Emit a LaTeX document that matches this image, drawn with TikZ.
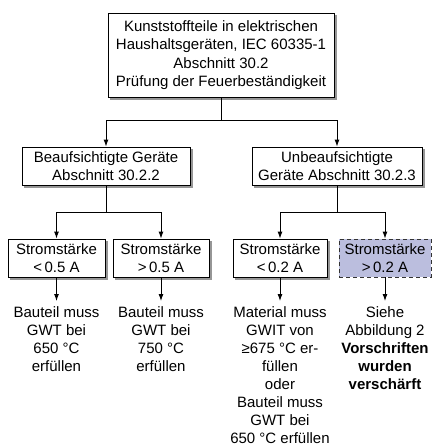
\documentclass[tikz,border=0pt]{standalone}
\usepackage{fontspec}
\setmainfont{Liberation Sans}
\usepackage{tikz}
\usetikzlibrary{shapes,arrows.meta,positioning,backgrounds}
\usepackage{xcolor}
\definecolor{lavendel}{RGB}{187,190,222}
\definecolor{schattengrau}{RGB}{150,150,150}

\begin{document}
\begin{tikzpicture}[x=1pt,y=1pt,>={Latex[length=7pt,width=5pt]},line width=0.9pt]
      \tikzstyle{haupt} = [rectangle, draw, fill=white, align=center, inner sep=0pt, font=\fontsize{15}{18.5}\selectfont]
      \tikzstyle{strom} = [haupt, minimum height=38pt, font=\fontsize{15}{18}\selectfont]
      \tikzstyle{strommark} = [rectangle, draw=black!80, dash pattern=on 4pt off 3pt, fill=lavendel, align=center, inner sep=0pt, minimum height=38pt, font=\fontsize{15}{18}\selectfont]
      \tikzstyle{ergebnis} = [anchor=north, align=center, inner sep=5pt, font=\fontsize{15}{18}\selectfont]
      \tikzstyle{schatten} = [fill=schattengrau, draw=none]
      
      \useasboundingbox (0,0) rectangle (431,-447);
      
      \node[haupt, minimum width=226pt, minimum height=84pt] (norm) at (221,-55) {Kunststoffteile in elektrischen\\Haushaltsgeräten, IEC 60335-1\\Abschnitt 30.2\\Prüfung der Feuerbeständigkeit};
      
      \node[strom, minimum width=168pt] (aufs) at (106,-166) {Beaufsichtigte Geräte\\Abschnitt 30.2.2};
      \node[strom, minimum width=170pt] (unaufs) at (337,-166) {Unbeaufsichtigte\\Geräte Abschnitt 30.2.3};
      
      \node[strom, minimum width=97pt] (s1) at (56.5,-258) {Stromstärke\\<\,0.5 A};
      \node[strom, minimum width=96pt] (s2) at (161,-258) {Stromstärke\\>\,0.5 A};
      \node[strom, minimum width=94pt] (s3) at (280,-258) {Stromstärke\\<\,0.2 A};
      \node[strommark, minimum width=92pt] (s4) at (385,-258) {Stromstärke\\>\,0.2 A};
      
      \node[ergebnis] (e1) at (56.5,-301) {Bauteil muss\\GWT bei\\650 °C\\erfüllen};
      \node[ergebnis] (e2) at (161,-301) {Bauteil muss\\GWT bei\\750 °C\\erfüllen};
      \node[ergebnis] (e3) at (280,-301) {Material muss\\GWIT von\\≥675 °C er-\\füllen\\oder\\Bauteil muss\\GWT bei\\650 °C erfüllen};
      \node[ergebnis] (e4) at (385,-301) {Siehe\\Abbildung 2\\\textbf{Vorschriften}\\\textbf{wurden}\\\textbf{verschärft}};
      
      % Schatten hinter den Kästen
      \begin{scope}[on background layer]
        \foreach \k in {norm,aufs,unaufs,s1,s2,s3}
          \fill[schatten] ([shift={(2.5,-2.5)}]\k.south west) rectangle ([shift={(2.5,-2.5)}]\k.north east);
      \end{scope}
      
      \coordinate (j0) at (221,-120);
      \coordinate (j1) at (106,-212);
      \coordinate (j2) at (337,-212);
      
      \draw (norm) -- (j0);
      \draw[->] (j0) -| (aufs);
      \draw[->] (j0) -| (unaufs);
      
      \draw (aufs) -- (j1);
      \draw[->] (j1) -| (s1);
      \draw[->] (j1) -| (s2);
      \draw (unaufs) -- (j2);
      \draw[->] (j2) -| (s3);
      \draw[->] (j2) -| (s4);
      
      \draw[->] (s1) -- (e1);
      \draw[->] (s2) -- (e2);
      \draw[->] (s3) -- (e3);
      \draw[->] (s4) -- (e4);
    \end{tikzpicture}
\end{document}
